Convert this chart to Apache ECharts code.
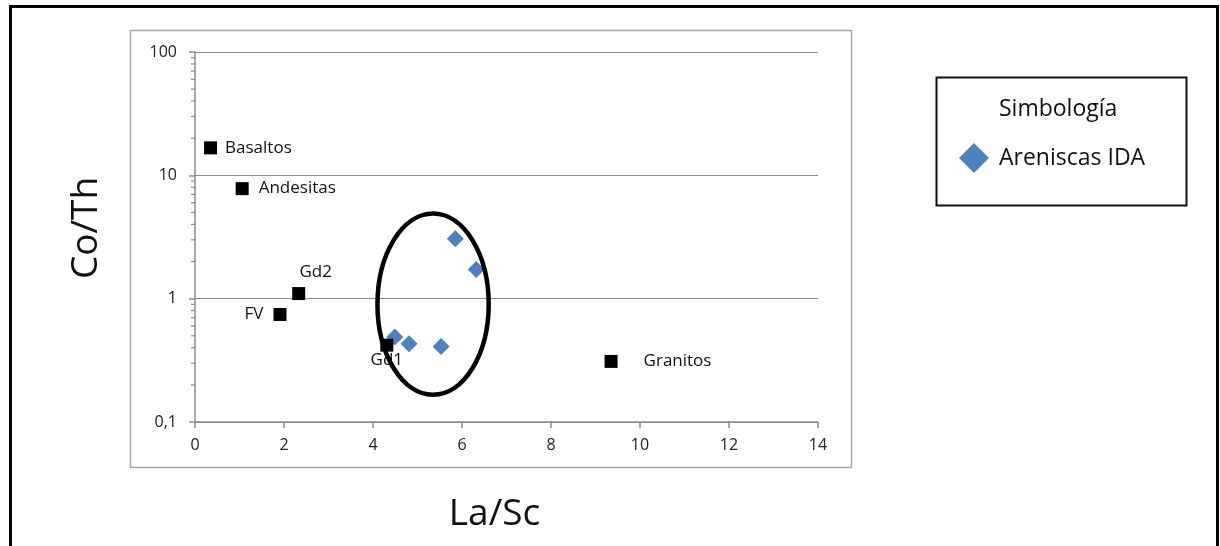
<!DOCTYPE html>
<html><head><meta charset="utf-8">
<script src="https://cdn.jsdelivr.net/npm/echarts@6/dist/echarts.min.js"></script>
<style>html,body{margin:0;padding:0;background:#fff}#c{width:1220px;height:546px}</style>
</head><body><div id="c"></div>
<script>
// Reference rock compositions (black squares)
const refNames = ['Basaltos', 'Andesitas', 'Gd2', 'FV', 'Gd1', 'Granitos'];
const refLaSc  = [0.35, 1.06, 2.33, 1.91, 4.31, 9.35];
const refCoTh  = [16.7, 7.8, 1.10, 0.745, 0.42, 0.31];
// Sample series (blue diamonds)
const sampleName = 'Areniscas IDA';
const sampleLaSc = [5.85, 6.32, 4.49, 4.81, 5.53];
const sampleCoTh = [3.06, 1.72, 0.49, 0.43, 0.41];
// Axis ticks
const xTicks = [0, 2, 4, 6, 8, 10, 12, 14];
const yTicks = [0.1, 1, 10, 100];
// Highlight ellipse bounds (data space)
const ellipseLaSc = [4.1, 6.6];
const ellipseCoTh = [0.166, 4.9];

const FONT = '"Open Sans", "Noto Sans", sans-serif';
const AXIS_GRAY = '#8c8c8c';

const labelCfg = {
  'Basaltos':  { position: 'right', distance: 8 },
  'Andesitas': { position: 'right', distance: 10 },
  'Gd2':       { position: 'top', distance: 6, offset: [17, 0] },
  'FV':        { position: 'left', distance: 10 },
  'Gd1':       { position: 'bottom', distance: 0 },
  'Granitos':  { position: 'right', distance: 26 }
};

const refData = refNames.map((n, i) => ({
  name: n, value: [refLaSc[i], refCoTh[i]],
  label: Object.assign({ show: true, formatter: n }, labelCfg[n])
}));
const sampleData = sampleLaSc.map((x, i) => [x, sampleCoTh[i]]);

const chart = echarts.init(document.getElementById('c'), null, { renderer: 'canvas' });

chart.setOption({
  animation: false,
  backgroundColor: '#fff',
  textStyle: { fontFamily: FONT },
  grid: { left: 195, right: 402, top: 52, bottom: 124, containLabel: false, outerBoundsMode: 'none' },
  legend: {
    data: [sampleName],
    left: 959, top: 143, padding: 0,
    icon: 'diamond',
    itemWidth: 30, itemHeight: 30, itemGap: 10,
    textStyle: { fontFamily: FONT, fontSize: 23, color: '#111', padding: [0, 0, 0, 5] }
  },
  xAxis: {
    type: 'value', min: xTicks[0], max: xTicks[xTicks.length - 1], interval: 2,
    name: 'La/Sc', nameLocation: 'middle', nameGap: 74,
    nameTextStyle: { fontFamily: FONT, fontSize: 37, color: '#111', padding: [0, 24, 0, 0] },
    axisLine: { show: true, lineStyle: { color: AXIS_GRAY, width: 1.5 } },
    axisTick: { show: true, inside: false, length: 6, lineStyle: { color: AXIS_GRAY, width: 1.5 } },
    splitLine: { show: false },
    axisLabel: { fontFamily: FONT, fontSize: 16, color: '#222', margin: 15 }
  },
  yAxis: {
    type: 'log', logBase: 10, min: yTicks[0], max: yTicks[yTicks.length - 1],
    name: 'Co/Th', nameLocation: 'middle', nameGap: 90, nameRotate: 90,
    nameTextStyle: { fontFamily: FONT, fontSize: 37, color: '#111', padding: [0, 0, 0, 18] },
    axisLine: { show: true, lineStyle: { color: AXIS_GRAY, width: 1.5 } },
    axisTick: { show: true, inside: false, length: 6, lineStyle: { color: AXIS_GRAY, width: 1.5 } },
    minorTick: { show: false },
    splitLine: { show: true, lineStyle: { color: AXIS_GRAY, width: 1.2 } },
    axisLabel: {
      fontFamily: FONT, fontSize: 16, color: '#222', margin: 18,
      formatter: v => String(+v.toPrecision(6)).replace('.', ',')
    }
  },
  series: [
    {
      name: sampleName, type: 'scatter', symbol: 'diamond', symbolSize: 17,
      itemStyle: { color: '#4f81bd', opacity: 1 }, data: sampleData, z: 2
    },
    {
      name: 'Referencia', type: 'scatter', symbol: 'rect', symbolSize: 13,
      itemStyle: { color: '#000', opacity: 1 }, data: refData, z: 3,
      label: { fontFamily: FONT, fontSize: 17, color: '#111' }
    }
  ]
});

function px(x, y) { return chart.convertToPixel({ gridIndex: 0 }, [x, y]); }

// minor log ticks on the y axis
const minor = [];
for (let d = 0; d < yTicks.length - 1; d++) {
  for (let m = 2; m <= 9; m++) {
    const v = yTicks[d] * m;
    const p = px(0, v);
    minor.push({ type: 'line', shape: { x1: p[0] - 4, y1: p[1], x2: p[0], y2: p[1] },
      style: { stroke: AXIS_GRAY, lineWidth: 1.2 }, silent: true });
  }
}

const eA = px(ellipseLaSc[0], ellipseCoTh[1]);
const eB = px(ellipseLaSc[1], ellipseCoTh[0]);

chart.setOption({
  graphic: [
    // outer black frame
    { type: 'rect', shape: { x: 10.5, y: 6.5, width: 1207, height: 600 },
      style: { fill: 'none', stroke: '#000', lineWidth: 3 }, z: 0, silent: true },
    // inner chart-area box
    { type: 'rect', shape: { x: 130.5, y: 30.5, width: 721, height: 437 },
      style: { fill: 'none', stroke: '#a6a6a6', lineWidth: 1.5 }, z: 0, silent: true },
    // legend box
    { type: 'rect', shape: { x: 936.5, y: 77.5, width: 250, height: 128 },
      style: { fill: 'none', stroke: '#111', lineWidth: 2 }, z: 0, silent: true },
    { type: 'text', left: 999, top: 98,
      style: { text: 'Simbología', font: '23px ' + FONT, fill: '#111' }, silent: true },
    // highlight ellipse
    { type: 'ellipse',
      shape: { cx: (eA[0] + eB[0]) / 2, cy: (eA[1] + eB[1]) / 2,
               rx: Math.abs(eB[0] - eA[0]) / 2, ry: Math.abs(eB[1] - eA[1]) / 2 },
      style: { fill: 'none', stroke: '#000', lineWidth: 4.5 }, z: 100, silent: true }
  ].concat(minor)
});
</script>
</body></html>
